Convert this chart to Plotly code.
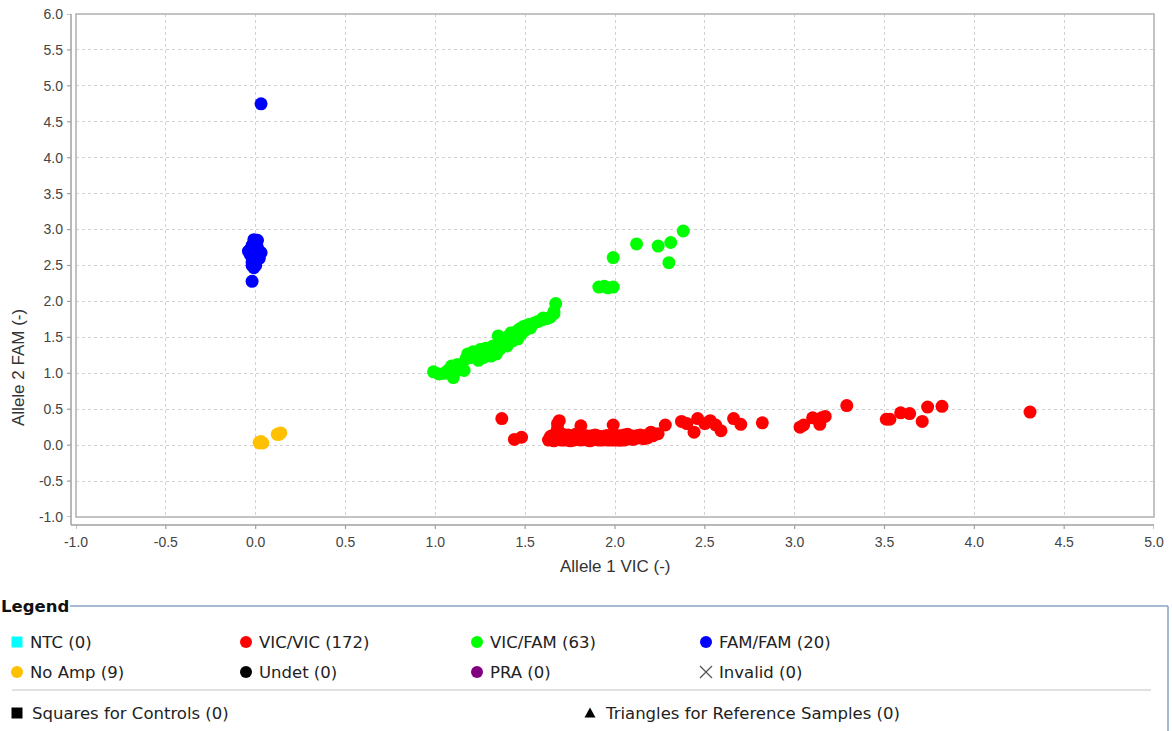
import plotly.graph_objects as go

W, H = 1172, 731

# ---------------- data ----------------
fam_x = [0.03, -0.01, 0.01, -0.03, -0.04, 0.03, -0.01, 0.00, -0.02, 0.00, -0.01, -0.02,
         0.01, -0.02, 0.00, -0.01, 0.02, -0.03, 0.00, -0.02]
fam_y = [4.75, 2.86, 2.85, 2.72, 2.70, 2.68, 2.62, 2.58, 2.55, 2.50, 2.47, 2.28,
         2.75, 2.78, 2.65, 2.52, 2.60, 2.65, 2.72, 2.50]

noamp_x = [0.02, 0.03, 0.04, 0.03, 0.02, 0.12, 0.13, 0.14, 0.13]
noamp_y = [0.03, 0.04, 0.03, 0.05, 0.04, 0.15, 0.16, 0.17, 0.15]

het_x = [0.99, 1.02, 1.07, 1.09, 1.10, 1.12, 1.14, 1.16, 1.17, 1.18, 1.20, 1.21, 1.23,
         1.24, 1.25, 1.26, 1.27, 1.28, 1.29, 1.30, 1.31, 1.32, 1.33, 1.34, 1.35, 1.36,
         1.37, 1.38, 1.39, 1.40, 1.41, 1.42, 1.43, 1.44, 1.45, 1.46, 1.47, 1.48, 1.49,
         1.50, 1.52, 1.53, 1.55, 1.57, 1.59, 1.60, 1.62, 1.64, 1.66, 1.67, 1.66, 1.13,
         1.05, 1.91, 1.94, 1.96, 1.99, 1.99, 2.12, 2.24, 2.31, 2.30, 2.38]
het_y = [1.02, 0.99, 1.04, 1.10, 0.94, 1.12, 1.05, 1.04, 1.20, 1.27, 1.22, 1.30, 1.25,
         1.18, 1.33, 1.28, 1.22, 1.35, 1.26, 1.31, 1.24, 1.38, 1.30, 1.27, 1.52, 1.34,
         1.42, 1.47, 1.40, 1.38, 1.52, 1.56, 1.45, 1.50, 1.58, 1.48, 1.62, 1.55, 1.65,
         1.60, 1.68, 1.63, 1.70, 1.72, 1.74, 1.77, 1.76, 1.78, 1.86, 1.97, 1.83, 1.12,
         1.00, 2.20, 2.21, 2.19, 2.20, 2.61, 2.80, 2.77, 2.82, 2.54, 2.98]

vic_x = [1.63, 1.65, 1.66, 1.67, 1.68, 1.68, 1.69, 1.70, 1.71, 1.72, 1.73, 1.74, 1.75,
         1.76, 1.77, 1.78, 1.79, 1.80, 1.81, 1.82, 1.83, 1.84, 1.85, 1.86, 1.87, 1.88,
         1.89, 1.90, 1.91, 1.92, 1.93, 1.94, 1.95, 1.96, 1.97, 1.98, 1.99, 2.00, 2.01,
         2.02, 2.03, 2.04, 2.05, 2.06, 2.07, 2.08, 2.10, 2.12, 2.14, 2.16, 2.18, 2.20,
         1.64, 1.66, 1.69, 1.70, 1.72, 1.73, 1.75, 1.76, 1.78, 1.79, 1.80, 1.82, 1.83,
         1.85, 1.86, 1.87, 1.88, 1.90, 1.91, 1.92, 1.94, 1.95, 1.96, 1.97, 1.98, 2.00,
         2.01, 2.02, 2.03, 2.04, 2.05, 2.06, 2.08, 2.09, 2.11, 2.13, 2.15, 2.17, 2.19,
         2.22, 1.64, 1.67, 1.68, 1.69, 1.71, 1.72, 1.74, 1.75, 1.77, 1.78, 1.80, 1.81,
         1.81, 1.83, 1.84, 1.86, 1.87, 1.89, 1.90, 1.92, 1.93, 1.95, 1.96, 1.98, 1.99,
         1.99, 2.01, 2.02, 2.04, 2.05, 2.07, 2.09, 2.10, 2.12, 2.14, 2.16, 2.18, 2.21,
         2.24, 1.65,
         1.37, 1.44, 1.48, 1.69, 1.68, 2.28, 2.37, 2.40, 2.44, 2.46, 2.50, 2.53, 2.56,
         2.59, 2.66, 2.70, 2.82, 3.03, 3.05, 3.10, 3.14, 3.17, 3.15, 3.29, 3.51, 3.53,
         3.59, 3.64, 3.71, 3.74, 3.82, 4.31]
vic_y = [0.07, 0.10, 0.06, 0.13, 0.09, 0.20, 0.12, 0.07, 0.10, 0.14, 0.08, 0.11, 0.06,
         0.12, 0.09, 0.15, 0.08, 0.11, 0.07, 0.13, 0.10, 0.08, 0.12, 0.09, 0.07, 0.11,
         0.14, 0.08, 0.10, 0.12, 0.07, 0.09, 0.11, 0.13, 0.08, 0.10, 0.15, 0.07, 0.11,
         0.09, 0.13, 0.08, 0.10, 0.12, 0.15, 0.09, 0.11, 0.13, 0.10, 0.12, 0.14, 0.18,
         0.12, 0.14, 0.08, 0.16, 0.09, 0.12, 0.10, 0.07, 0.11, 0.13, 0.09, 0.08, 0.12,
         0.07, 0.11, 0.13, 0.08, 0.12, 0.07, 0.09, 0.12, 0.08, 0.10, 0.12, 0.07, 0.12,
         0.08, 0.11, 0.07, 0.12, 0.14, 0.08, 0.12, 0.10, 0.09, 0.11, 0.13, 0.11, 0.12,
         0.15, 0.09, 0.08, 0.30, 0.15, 0.12, 0.07, 0.14, 0.12, 0.07, 0.10, 0.14, 0.10,
         0.27, 0.08, 0.13, 0.06, 0.10, 0.09, 0.13, 0.08, 0.11, 0.13, 0.07, 0.12, 0.09,
         0.28, 0.13, 0.07, 0.10, 0.07, 0.11, 0.13, 0.08, 0.10, 0.14, 0.09, 0.10, 0.13,
         0.16, 0.13,
         0.37, 0.08, 0.11, 0.34, 0.24, 0.28, 0.33, 0.30, 0.18, 0.37, 0.30, 0.34, 0.28,
         0.20, 0.37, 0.29, 0.31, 0.25, 0.28, 0.38, 0.29, 0.40, 0.38, 0.55, 0.36, 0.36,
         0.45, 0.44, 0.33, 0.53, 0.54, 0.46]

x_ticks = [-1.0, -0.5, 0.0, 0.5, 1.0, 1.5, 2.0, 2.5, 3.0, 3.5, 4.0, 4.5, 5.0]
x_tick_labels = ["-1.0", "-0.5", "0.0", "0.5", "1.0", "1.5", "2.0", "2.5", "3.0", "3.5", "4.0", "4.5", "5.0"]
y_ticks = [-1.0, -0.5, 0.0, 0.5, 1.0, 1.5, 2.0, 2.5, 3.0, 3.5, 4.0, 4.5, 5.0, 5.5, 6.0]
y_tick_labels = ["-1.0", "-0.5", "0.0", "0.5", "1.0", "1.5", "2.0", "2.5", "3.0", "3.5", "4.0", "4.5", "5.0", "5.5", "6.0"]

legend_labels = ["NTC", "VIC/VIC", "VIC/FAM", "FAM/FAM", "No Amp", "Undet", "PRA", "Invalid"]
legend_counts = [0, 172, 63, 20, 9, 0, 0, 0]
legend_colors = ["#00FFFF", "#FF0000", "#00FF00", "#0000FF", "#FFC000", "#000000", "#800080", "#555555"]
legend_symbols = ["square", "circle", "circle", "circle", "circle", "circle", "circle", "x"]
extra_labels = ["Squares for Controls", "Triangles for Reference Samples"]
extra_counts = [0, 0]
extra_symbols = ["square", "triangle"]

# ---------------- layout geometry (pixels) ----------------
PL, PR, PT, PB = 76, 1154, 14, 517
PW, PH = PR - PL, PB - PT
def px(x): return (x - PL) / PW          # pixel x -> paper x
def py(y): return (PB - y) / PH          # pixel y -> paper y

fig = go.Figure()
MS = 13
for xs, ys, c, name in [(vic_x, vic_y, "#FF0000", "VIC/VIC"),
                        (het_x, het_y, "#00FF00", "VIC/FAM"),
                        (fam_x, fam_y, "#0000FF", "FAM/FAM"),
                        (noamp_x, noamp_y, "#FFC000", "No Amp")]:
    fig.add_trace(go.Scatter(x=xs, y=ys, mode="markers", name=name,
                             marker=dict(color=c, size=MS, opacity=1, line=dict(width=0)),
                             showlegend=False))

AX = "#a0a0a0"
shapes = []

def legend_mark(cx, cy, sym, color):
    base = dict(xref="paper", yref="paper", xsizemode="pixel", ysizemode="pixel",
                xanchor=px(cx), yanchor=py(cy), layer="above")
    if sym == "circle":
        shapes.append(dict(type="circle", x0=-6, x1=6, y0=-6, y1=6, fillcolor=color,
                           line=dict(width=0), **base))
    elif sym == "square":
        shapes.append(dict(type="rect", x0=-5.5, x1=5.5, y0=-5.5, y1=5.5, fillcolor=color,
                           line=dict(width=0), **base))
    elif sym == "triangle":
        shapes.append(dict(type="path", path="M-5.5,-4.5 L5.5,-4.5 L0,5.5 Z", fillcolor=color,
                           line=dict(width=0), **base))
    elif sym == "x":
        shapes.append(dict(type="path", path="M-6,-6 L6,6 M-6,6 L6,-6",
                           line=dict(color=color, width=1.3), **base))

annotations = []
font_leg = dict(family="DejaVu Sans", size=16.5, color="#222222")
col_x = [17, 246, 477, 706]
row_y = [642, 672]
for i, (lab, cnt, colr, sym) in enumerate(zip(legend_labels, legend_counts, legend_colors, legend_symbols)):
    r, cidx = divmod(i, 4)
    legend_mark(col_x[cidx], row_y[r], sym, colr)
    annotations.append(dict(x=px(col_x[cidx] + 11), y=py(row_y[r]), xref="paper", yref="paper",
                            text=f"{lab} ({cnt})", showarrow=False, xanchor="left", yanchor="middle",
                            font=font_leg))
extra_x = [17, 590]
extra_y = [713, 713]
for ex, ey, lab, cnt, sym in zip(extra_x, extra_y, extra_labels, extra_counts, extra_symbols):
    legend_mark(ex, ey, sym, "#000000")
    annotations.append(dict(x=px(ex + 13), y=py(ey), xref="paper", yref="paper",
                            text=f"{lab} ({cnt})", showarrow=False, xanchor="left", yanchor="middle",
                            font=font_leg))
annotations.append(dict(x=px(-1), y=py(606), xref="paper", yref="paper", text="<b>Legend</b>",
                        showarrow=False, xanchor="left", yanchor="middle",
                        font=dict(family="DejaVu Sans", size=16.5, color="#111111")))
annotations.append(dict(x=px(615), y=py(566), xref="paper", yref="paper", text="Allele 1 VIC (-)",
                        showarrow=False, xanchor="center", yanchor="middle",
                        font=dict(family="Liberation Sans", size=17, color="#333333")))
annotations.append(dict(x=px(18), y=py(368), xref="paper", yref="paper", text="Allele 2 FAM (-)",
                        showarrow=False, xanchor="center", yanchor="middle", textangle=-90,
                        font=dict(family="Liberation Sans", size=17, color="#333333")))

shapes += [
    # plot border box
    dict(type="rect", xref="paper", yref="paper", x0=0, x1=1, y0=0, y1=1,
         line=dict(color="#b0b0b0", width=1.5), layer="above"),
    # offset axis lines
    dict(type="line", xref="paper", yref="paper", x0=px(71), x1=px(PR), y0=py(525), y1=py(525),
         line=dict(color=AX, width=1.5)),
    dict(type="line", xref="paper", yref="paper", x0=px(71), x1=px(71), y0=py(PT), y1=py(525),
         line=dict(color=AX, width=1.5)),
    # legend box top + right
    dict(type="line", xref="paper", yref="paper", x0=px(70), x1=px(1168), y0=py(606), y1=py(606),
         line=dict(color="#8aa3c4", width=1.5)),
    dict(type="line", xref="paper", yref="paper", x0=px(1168), x1=px(1168), y0=py(606), y1=py(740),
         line=dict(color="#8aa3c4", width=1.5)),
    # separator
    dict(type="line", xref="paper", yref="paper", x0=px(12), x1=px(1151), y0=py(690), y1=py(690),
         line=dict(color="#c4c4c4", width=1.2)),
]
# tick marks on the offset axis lines, positioned through the data axes
for t in x_ticks:
    shapes.append(dict(type="line", xref="x", yref="paper", x0=t, x1=t, y0=py(525), y1=py(529),
                       line=dict(color=AX, width=1.2)))
for t in y_ticks:
    shapes.append(dict(type="line", xref="paper", yref="y", x0=px(71), x1=px(67), y0=t, y1=t,
                       line=dict(color=AX, width=1.2)))

axis_common = dict(showgrid=True, gridcolor="#d2d2d2", griddash="3px,3px", gridwidth=1,
                   zeroline=False, showline=False, ticks="",
                   tickfont=dict(family="Liberation Sans", size=14, color="#444444"))

fig.update_layout(
    width=W, height=H, margin=dict(l=PL, r=W - PR, t=PT, b=H - PB, pad=0, autoexpand=False),
    paper_bgcolor="white", plot_bgcolor="white",
    xaxis=dict(range=[-1.0, 5.0], tickvals=x_ticks, ticktext=x_tick_labels,
               ticklabelstandoff=15, automargin=False, **axis_common),
    yaxis=dict(range=[-1.0, 6.0], tickvals=y_ticks, ticktext=y_tick_labels,
               ticklabelstandoff=12, automargin=False, **axis_common),
    annotations=annotations, shapes=shapes, showlegend=False,
)

fig.write_html("out.html", config={"displayModeBar": False},
               post_script="document.body.style.margin='0';document.body.style.overflow='hidden';")
